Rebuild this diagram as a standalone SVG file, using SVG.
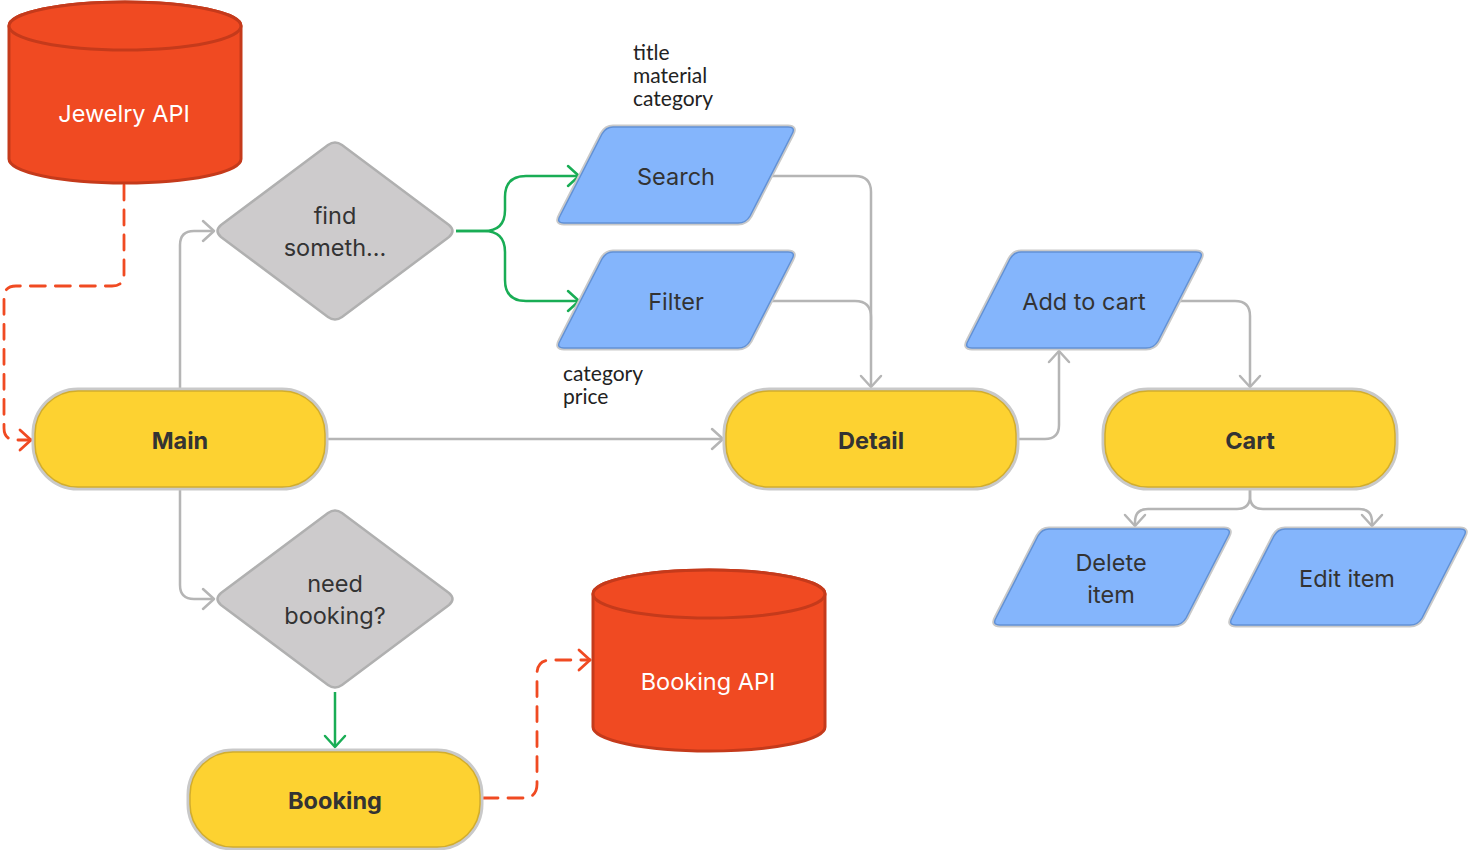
<svg xmlns="http://www.w3.org/2000/svg" width="1468" height="850" viewBox="0 0 1468 850">
  <style>
    .lbl { font-family: Inter, "Noto Sans", "Liberation Sans", sans-serif; font-size: 23.5px; fill: #333333; text-anchor: middle; dominant-baseline: central; }
    .bold { font-weight: 700; }
    .white { fill: #ffffff; }
    .note { font-family: Lato, "Open Sans", "Liberation Sans", sans-serif; font-size: 21px; fill: #222222; }
    .halo { fill: none; stroke: #C9C9C9; stroke-width: 5; stroke-linejoin: round; }
    .term { fill: #FDD231; stroke: #D2AD2C; stroke-width: 1.5; }
    .io { fill: #84B5FC; stroke: #6191D6; stroke-width: 1.5; stroke-linejoin: round; }
    .dec { fill: #CDCBCC; stroke: #B0B0B0; stroke-width: 2.5; stroke-linejoin: round; }
    .db { fill: #F04A22; stroke: #C53A1B; stroke-width: 3; }
    .grey { fill: none; stroke: #B5B5B5; stroke-width: 2.5; }
    .green { fill: none; stroke: #19AD55; stroke-width: 2.5; }
    .dash { fill: none; stroke: #F04A22; stroke-width: 2.8; stroke-dasharray: 15 10; stroke-linecap: round; }
  </style>
  <defs>
    <marker id="ah-grey" viewBox="0 0 16 24" refX="14" refY="12" markerWidth="16" markerHeight="24" markerUnits="userSpaceOnUse" orient="auto">
      <path d="M3,2 L14,12 L3,22" fill="none" stroke="#B5B5B5" stroke-width="2.5" stroke-linecap="round" stroke-linejoin="round"/>
    </marker>
    <marker id="ah-green" viewBox="0 0 16 24" refX="14" refY="12" markerWidth="16" markerHeight="24" markerUnits="userSpaceOnUse" orient="auto">
      <path d="M3,2 L14,12 L3,22" fill="none" stroke="#19AD55" stroke-width="2.5" stroke-linecap="round" stroke-linejoin="round"/>
    </marker>
    <marker id="ah-red" viewBox="0 0 16 24" refX="14" refY="12" markerWidth="16" markerHeight="24" markerUnits="userSpaceOnUse" orient="auto">
      <path d="M3,2 L14,12 L3,22" fill="none" stroke="#F04A22" stroke-width="2.8" stroke-linecap="round" stroke-linejoin="round"/>
    </marker>
  </defs>

  <rect width="1468" height="850" fill="#ffffff"/>

  <!-- connectors -->
  <g id="connectors">
    <path class="dash" d="M124,185 V274 Q124,286 112,286 H16 Q4,286 4,298 V428 Q4,440 16,440 H31" marker-end="url(#ah-red)"/>
    <path class="dash" d="M483,798 H523 Q537,798 537,784 V674 Q537,660 551,660 H590" marker-end="url(#ah-red)"/>
    <path class="grey" d="M180,388 V245 Q180,231 194,231 H214" marker-end="url(#ah-grey)"/>
    <path class="grey" d="M180,490 V585 Q180,599 194,599 H214" marker-end="url(#ah-grey)"/>
    <path class="grey" d="M328,439 H723" marker-end="url(#ah-grey)"/>
    <path class="green" d="M456,231 H484 Q505,231 505,210 V197 Q505,176 526,176 H579" marker-end="url(#ah-green)"/>
    <path class="green" d="M456,231 H484 Q505,231 505,252 V280 Q505,301 526,301 H579" marker-end="url(#ah-green)"/>
    <path class="green" d="M335,692 V747" marker-end="url(#ah-green)"/>
    <path class="grey" d="M772,176 H855 Q871,176 871,192 V387" marker-end="url(#ah-grey)"/>
    <path class="grey" d="M772,301 H855 Q871,301 871,317 V330"/>
    <path class="grey" d="M1019,439 H1045 Q1059,439 1059,425 V351" marker-end="url(#ah-grey)"/>
    <path class="grey" d="M1180,301 H1235 Q1250,301 1250,316 V387" marker-end="url(#ah-grey)"/>
    <path class="grey" d="M1250,490 V496 Q1250,509 1237,509 H1148 Q1135,509 1135,522 V526" marker-end="url(#ah-grey)"/>
    <path class="grey" d="M1250,490 V496 Q1250,509 1263,509 H1359 Q1372,509 1372,522 V526" marker-end="url(#ah-grey)"/>
  </g>

  <!-- data stores -->
  <g id="jewelry-api">
    <path class="db" d="M9,26 V159 A116,24 0 0 0 241,159 V26 A116,24 0 0 0 9,26 Z"/>
    <ellipse class="db" cx="125" cy="26" rx="116" ry="24"/>
    <text class="lbl white" x="124" y="113">Jewelry API</text>
  </g>
  <g id="booking-api">
    <path class="db" d="M593,594 V727 A116,24 0 0 0 825,727 V594 A116,24 0 0 0 593,594 Z"/>
    <ellipse class="db" cx="709" cy="594" rx="116" ry="24"/>
    <text class="lbl white" x="708" y="681">Booking API</text>
  </g>

  <!-- screens -->
  <g id="main">
    <rect class="halo" x="34" y="390" width="292" height="98" rx="44"/>
    <rect class="term" x="35" y="391" width="290" height="96" rx="43"/>
    <text class="lbl bold" x="180" y="440">Main</text>
  </g>
  <g id="detail">
    <rect class="halo" x="725" y="390" width="292" height="98" rx="44"/>
    <rect class="term" x="726" y="391" width="290" height="96" rx="43"/>
    <text class="lbl bold" x="871" y="440">Detail</text>
  </g>
  <g id="cart">
    <rect class="halo" x="1104" y="390" width="292" height="98" rx="44"/>
    <rect class="term" x="1105" y="391" width="290" height="96" rx="43"/>
    <text class="lbl bold" x="1250" y="440">Cart</text>
  </g>
  <g id="booking">
    <rect class="halo" x="189" y="751" width="292" height="97" rx="44"/>
    <rect class="term" x="190" y="752" width="290" height="95" rx="43"/>
    <text class="lbl bold" x="335" y="800">Booking</text>
  </g>

  <!-- decisions -->
  <g id="find-something">
    <path class="dec" d="M328,145 Q335,140 342,145 L449,225 Q456,231 449,237 L342,317 Q335,322 328,317 L221,237 Q214,231 221,225 Z"/>
    <text class="lbl" x="335" y="215">find</text>
    <text class="lbl" x="335" y="247">someth...</text>
  </g>
  <g id="need-booking">
    <path class="dec" d="M328,513 Q335,508 342,513 L449,593 Q456,599 449,605 L342,685 Q335,690 328,685 L221,605 Q214,599 221,593 Z"/>
    <text class="lbl" x="335" y="583">need</text>
    <text class="lbl" x="335" y="615">booking?</text>
  </g>

  <!-- actions -->
  <g id="search">
    <path class="halo" d="M613,127 H788 Q796,127 792,134 L750,216 Q746,223 738,223 H564 Q556,223 560,216 L602,134 Q606,127 613,127 Z"/>
    <path class="io" d="M613,127 H788 Q796,127 792,134 L750,216 Q746,223 738,223 H564 Q556,223 560,216 L602,134 Q606,127 613,127 Z"/>
    <text class="lbl" x="676" y="176">Search</text>
  </g>
  <g id="filter">
    <path class="halo" d="M613,252 H788 Q796,252 792,259 L750,341 Q746,348 738,348 H564 Q556,348 560,341 L602,259 Q606,252 613,252 Z"/>
    <path class="io" d="M613,252 H788 Q796,252 792,259 L750,341 Q746,348 738,348 H564 Q556,348 560,341 L602,259 Q606,252 613,252 Z"/>
    <text class="lbl" x="676" y="301">Filter</text>
  </g>
  <g id="add-to-cart">
    <path class="halo" d="M1021,252 H1196 Q1204,252 1200,259 L1158,341 Q1154,348 1146,348 H972 Q964,348 968,341 L1010,259 Q1014,252 1021,252 Z"/>
    <path class="io" d="M1021,252 H1196 Q1204,252 1200,259 L1158,341 Q1154,348 1146,348 H972 Q964,348 968,341 L1010,259 Q1014,252 1021,252 Z"/>
    <text class="lbl" x="1084" y="301">Add to cart</text>
  </g>
  <g id="delete-item">
    <path class="halo" d="M1049,529 H1224 Q1232,529 1228,536 L1186,618 Q1182,625 1174,625 H1000 Q992,625 996,618 L1038,536 Q1042,529 1049,529 Z"/>
    <path class="io" d="M1049,529 H1224 Q1232,529 1228,536 L1186,618 Q1182,625 1174,625 H1000 Q992,625 996,618 L1038,536 Q1042,529 1049,529 Z"/>
    <text class="lbl" x="1111" y="562">Delete</text>
    <text class="lbl" x="1111" y="594">item</text>
  </g>
  <g id="edit-item">
    <path class="halo" d="M1285,529 H1460 Q1468,529 1464,536 L1422,618 Q1418,625 1410,625 H1236 Q1228,625 1232,618 L1274,536 Q1278,529 1285,529 Z"/>
    <path class="io" d="M1285,529 H1460 Q1468,529 1464,536 L1422,618 Q1418,625 1410,625 H1236 Q1228,625 1232,618 L1274,536 Q1278,529 1285,529 Z"/>
    <text class="lbl" x="1347" y="578">Edit item</text>
  </g>

  <!-- field notes -->
  <g id="search-fields">
    <text class="note" x="633" y="60">title</text>
    <text class="note" x="633" y="83">material</text>
    <text class="note" x="633" y="106">category</text>
  </g>
  <g id="filter-fields">
    <text class="note" x="563" y="381">category</text>
    <text class="note" x="563" y="404">price</text>
  </g>
</svg>
